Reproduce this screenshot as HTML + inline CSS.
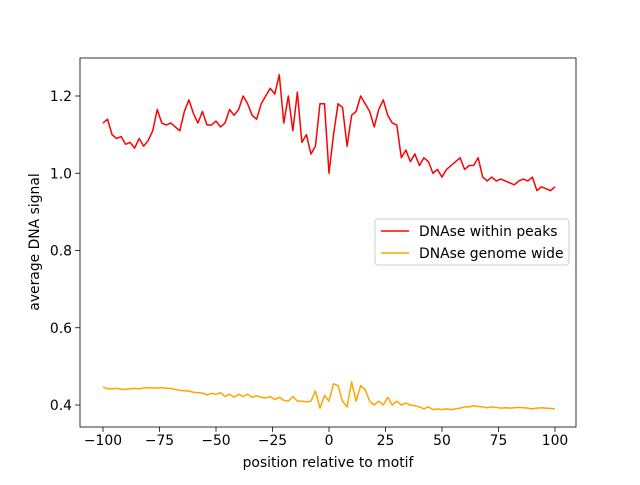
<!DOCTYPE html>
<html><head><meta charset="utf-8"><style>
body{margin:0;background:#fff;font-family:"Liberation Sans","DejaVu Sans",sans-serif}
text{font-family:"DejaVu Sans","Liberation Sans",sans-serif;font-size:13.9px;fill:#000}
</style></head><body>
<svg id="chart" width="640" height="480"></svg>
<script>
const xs = [];
for (let i=-100;i<=100;i+=2) xs.push(i);
const peaks = [1.13,1.14,1.10,1.09,1.095,1.075,1.08,1.065,1.09,1.07,1.085,1.11,1.165,1.13,1.125,1.13,1.12,1.11,1.16,1.19,1.155,1.13,1.16,1.125,1.125,1.135,1.12,1.13,1.165,1.15,1.165,1.2,1.18,1.15,1.14,1.18,1.2,1.22,1.205,1.255,1.13,1.2,1.11,1.21,1.08,1.1,1.05,1.07,1.18,1.18,1.0,1.1,1.18,1.17,1.07,1.15,1.16,1.2,1.18,1.16,1.12,1.165,1.19,1.15,1.13,1.125,1.04,1.06,1.03,1.05,1.02,1.04,1.03,1.0,1.01,0.99,1.01,1.02,1.03,1.04,1.01,1.02,1.02,1.04,0.99,0.98,0.99,0.98,0.985,0.98,0.975,0.97,0.98,0.985,0.98,0.99,0.955,0.965,0.96,0.955,0.965];
const genome = [0.447,0.442,0.442,0.443,0.441,0.440,0.442,0.443,0.442,0.444,0.445,0.444,0.444,0.445,0.443,0.443,0.44,0.438,0.437,0.436,0.433,0.432,0.431,0.426,0.43,0.428,0.432,0.422,0.428,0.42,0.428,0.422,0.428,0.42,0.424,0.42,0.418,0.422,0.414,0.42,0.412,0.41,0.422,0.41,0.41,0.408,0.41,0.436,0.392,0.425,0.41,0.455,0.45,0.41,0.395,0.46,0.41,0.45,0.44,0.41,0.40,0.41,0.40,0.42,0.40,0.41,0.40,0.405,0.40,0.398,0.395,0.39,0.395,0.388,0.39,0.388,0.39,0.388,0.39,0.392,0.395,0.395,0.398,0.396,0.395,0.393,0.395,0.394,0.392,0.393,0.392,0.393,0.394,0.393,0.392,0.39,0.392,0.393,0.392,0.391,0.39];
const xTicks = [-100,-75,-50,-25,0,25,50,75,100];
const yTicks = [0.4,0.6,0.8,1.0,1.2];
const NS="http://www.w3.org/2000/svg";
const svg=document.getElementById('chart');
const L=80,R=576,T=58,B=427;
const sx=v=>103+(v+100)*2.26;
const sy=v=>405-(v-0.4)*386.25;
function mk(tag,attrs,parent){const e=document.createElementNS(NS,tag);for(const k in attrs)e.setAttribute(k,attrs[k]);(parent||svg).appendChild(e);return e;}
function line(data,color,name){
  const p=mk('polyline',{points:data.map((v,i)=>sx(xs[i])+','+sy(v)).join(' '),fill:'none',stroke:color,'stroke-width':1.5,'stroke-linejoin':'round'});
  
  
}
line(peaks,'#ff0000','dnase-within-peaks-line');
line(genome,'#ffa500','dnase-genome-wide-line');
const fr=mk('rect',{x:L,y:T,width:R-L,height:B-T,fill:'none',stroke:'#000','stroke-width':0.8});


xTicks.forEach(t=>{
  mk('line',{x1:sx(t),x2:sx(t),y1:B,y2:B+4.9,stroke:'#000','stroke-width':0.8});
  const tx=mk('text',{x:sx(t),y:B+18,'text-anchor':'middle'});tx.textContent=String(t).replace('-','−');
  
  
});
yTicks.forEach(t=>{
  mk('line',{x1:L-4.9,x2:L,y1:sy(t),y2:sy(t),stroke:'#000','stroke-width':0.8});
  const tx=mk('text',{x:L-8,y:sy(t)+5,'text-anchor':'end'});tx.textContent=t.toFixed(1);
  
  
});
const xt=mk('text',{x:328,y:467,'text-anchor':'middle'});xt.textContent='position relative to motif';


const yt=mk('text',{x:39,y:242,'text-anchor':'middle',transform:'rotate(-90 39 242)'});yt.textContent='average DNA signal';


const lg=mk('g',{});


mk('rect',{x:375,y:219,width:194,height:46,rx:3,fill:'#fff',stroke:'#ccc','stroke-width':1},lg);
[['DNAse within peaks','#ff0000',231],['DNAse genome wide','#ffa500',253]].forEach(([lab,c,y])=>{
  const g=mk('g',{},lg);
  
  
  mk('line',{x1:381,x2:409,y1:y,y2:y,stroke:c,'stroke-width':1.5},g);
  const t=mk('text',{x:419,y:y+5},g);t.textContent=lab;
});
</script>
</body></html>
